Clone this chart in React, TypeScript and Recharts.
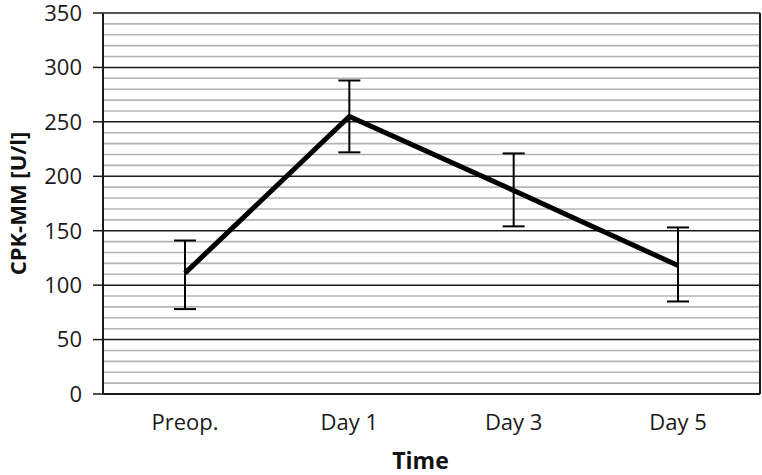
import React from "react";
import { LineChart, Line, XAxis, YAxis, CartesianGrid, ErrorBar } from "recharts";

const categories = ["Preop.", "Day 1", "Day 3", "Day 5"];
const means = [111, 255, 187, 118];
const errLow = [33, 33, 33, 33];
const errHigh = [30, 33, 34, 35];
const yTicks = [0, 50, 100, 150, 200, 250, 300, 350];
const minorValues = [10, 20, 30, 40, 60, 70, 80, 90, 110, 120, 130, 140, 160, 170, 180, 190, 210, 220, 230, 240, 260, 270, 280, 290, 310, 320, 330, 340];
const majorValues = [50, 100, 150, 200, 250, 300, 350];

const data = categories.map((c, i) => ({
  name: c,
  value: means[i],
  err: [errLow[i], errHigh[i]],
}));

const FONT = "'Open Sans', sans-serif";

export default function App() {
  return (
    <div style={{ position: "absolute", left: 0, top: 0, width: 762, height: 475, background: "#fff" }}>
      <LineChart width={762} height={475} data={data} margin={{ top: 13, right: 1, left: 0, bottom: 0 }}>
        <CartesianGrid horizontalValues={minorValues} vertical={false} stroke="#b4b4b4" strokeWidth={1.6} />
        <CartesianGrid horizontalValues={majorValues} vertical={false} stroke="#1a1a1a" strokeWidth={1.5} />
        <XAxis
          dataKey="name"
          padding={{ left: 82, right: 82 }}
          height={81}
          axisLine={{ stroke: "#1a1a1a", strokeWidth: 2 }}
          tickLine={false}
          tick={{ fill: "#1a1a1a", fontSize: 22, fontFamily: FONT }}
          tickMargin={14}
          label={{ value: "Time", position: "insideBottom", dx: -11, dy: -1, fill: "#111", fontSize: 23, fontWeight: 700, fontFamily: FONT }}
        />
        <YAxis
          domain={[0, 350]}
          ticks={yTicks}
          width={103}
          interval={0}
          axisLine={{ stroke: "#1a1a1a", strokeWidth: 2 }}
          tickLine={{ stroke: "#1a1a1a", strokeWidth: 1.5 }}
          tickSize={10}
          tickMargin={11}
          tick={{ fill: "#1a1a1a", fontSize: 22, fontFamily: FONT }}
          label={{ value: "CPK-MM [U/l]", angle: -90, position: "insideLeft", dx: 13, fill: "#111", fontSize: 22, fontWeight: 700, fontFamily: FONT, style: { textAnchor: "middle" } }}
        />
        <YAxis
          yAxisId="right"
          orientation="right"
          domain={[0, 350]}
          width={1}
          tick={false}
          tickLine={false}
          axisLine={{ stroke: "#1a1a1a", strokeWidth: 2 }}
        />
        <Line
          dataKey="value"
          stroke="#000"
          strokeWidth={5}
          dot={false}
          activeDot={false}
          isAnimationActive={false}
        >
          <ErrorBar dataKey="err" width={11} stroke="#000" strokeWidth={2} direction="y" />
        </Line>
      </LineChart>
    </div>
  );
}
